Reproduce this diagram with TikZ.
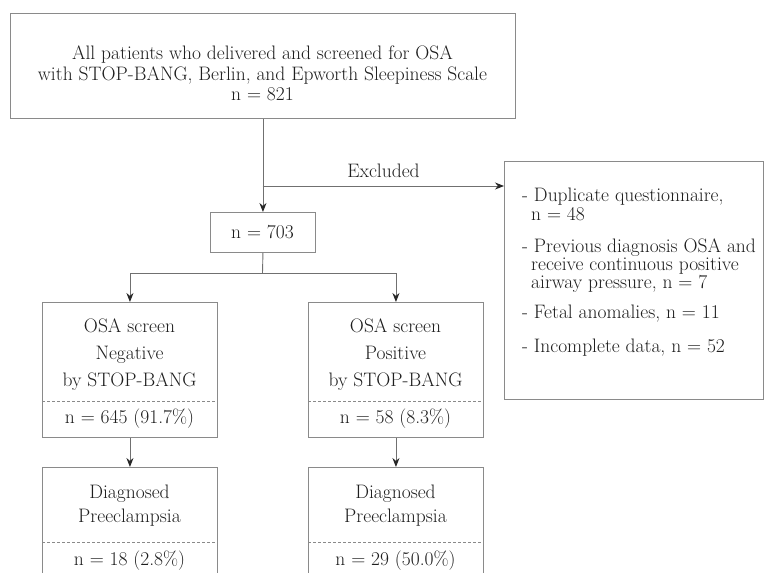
\documentclass[tikz,border=0pt]{standalone}
\usetikzlibrary{arrows.meta}
\definecolor{boxgray}{HTML}{8A8A8A}
\definecolor{linecol}{HTML}{707070}
\definecolor{headcol}{HTML}{262626}
\definecolor{textcol}{HTML}{1E1E1E}
\begin{document}
\begin{tikzpicture}[x=1pt,y=-1pt,
  box/.style={draw=boxgray, line width=0.9pt, rectangle, anchor=north west, inner sep=0pt},
  txt/.style={anchor=base, inner sep=0pt, font=\fontsize{19.5}{22}\selectfont, text=textcol},
  ltxt/.style={txt, anchor=base west},
  arr/.style={draw=linecol, line width=0.9pt, -{Stealth[length=9pt,width=7pt,color=headcol]}},
  ln/.style={draw=linecol, line width=0.9pt},
  dsh/.style={draw=boxgray, line width=0.6pt, dash pattern=on 3pt off 2pt}]
\useasboundingbox (0,0) rectangle (764,573);
\clip (0,0) rectangle (764,573);
\fill[white] (0,0) rectangle (764,573);

% top box
\node[box, minimum width=505pt, minimum height=105pt] (top) at (10,13) {};
\node[txt] (t1) at (262.5,59) {All patients who delivered and screened for OSA};
\node[txt] (t2) at (262.5,80) {with STOP-BANG, Berlin, and Epworth Sleepiness Scale};
\node[txt] (t3) at (262.5,100) {n = 821};

% n = 703
\node[box, minimum width=105pt, minimum height=40pt] (b703) at (210,212) {};
\node[txt] (t703) at (262.5,238) {n = 703};
\draw[arr] (top.south) -- (b703.north);

% excluded
\node[box, minimum width=259pt, minimum height=238pt] (exbox) at (504,161) {};
\coordinate (exc) at (262.5,186);
\draw[arr] (exc) -- (exc -| exbox.west);
\node[txt] (exlab) at (383.5,177) {Excluded};
\node[ltxt] (e1) at (522,201) {- Duplicate questionnaire,};
\node[ltxt] (e2) at (531,220) {n = 48};
\node[ltxt] (e3) at (522,252) {- Previous diagnosis OSA and};
\node[ltxt] (e4) at (531,270) {receive continuous positive};
\node[ltxt] (e5) at (531,288) {airway pressure, n = 7};
\node[ltxt] (e6) at (522,318) {- Fetal anomalies, n = 11};
\node[ltxt] (e7) at (522,352) {- Incomplete data, n = 52};

% screening boxes
\node[box, minimum width=175pt, minimum height=135pt] (neg) at (42,302) {};
\node[box, minimum width=175pt, minimum height=135pt] (pos) at (308,302) {};
\draw[dsh] ([yshift=-99pt]neg.north west) -- ([yshift=-99pt]neg.north east);
\draw[dsh] ([yshift=-99pt]pos.north west) -- ([yshift=-99pt]pos.north east);

\coordinate (br) at (262.5,273);
\draw[ln] (b703.south) -- (br);
\draw[arr] (br) -| (neg.north);
\draw[arr] (br) -| (pos.north);

\node[txt] (n1) at (129.5,332) {OSA screen};
\node[txt] (n2) at (129.5,359) {Negative};
\node[txt] (n3) at (129.5,386) {by STOP-BANG};
\node[txt] (n4) at (129.5,423) {n = 645 (91.7\%)};
\node[txt] (p1) at (395.5,332) {OSA screen};
\node[txt] (p2) at (395.5,359) {Positive};
\node[txt] (p3) at (395.5,386) {by STOP-BANG};
\node[txt] (p4) at (395.5,423) {n = 58 (8.3\%)};

% preeclampsia boxes
\node[box, minimum width=175pt, minimum height=160pt] (dneg) at (42,467) {};
\node[box, minimum width=175pt, minimum height=160pt] (dpos) at (308,467) {};
\draw[dsh] ([yshift=-75pt]dneg.north west) -- ([yshift=-75pt]dneg.north east);
\draw[dsh] ([yshift=-75pt]dpos.north west) -- ([yshift=-75pt]dpos.north east);
\draw[arr] (neg.south) -- (dneg.north);
\draw[arr] (pos.south) -- (dpos.north);

\node[txt] (dn1) at (129.5,498) {Diagnosed};
\node[txt] (dn2) at (129.5,522) {Preeclampsia};
\node[txt] (dn3) at (129.5,565) {n = 18 (2.8\%)};
\node[txt] (dp1) at (395.5,498) {Diagnosed};
\node[txt] (dp2) at (395.5,522) {Preeclampsia};
\node[txt] (dp3) at (395.5,565) {n = 29 (50.0\%)};
\end{tikzpicture}
\end{document}
